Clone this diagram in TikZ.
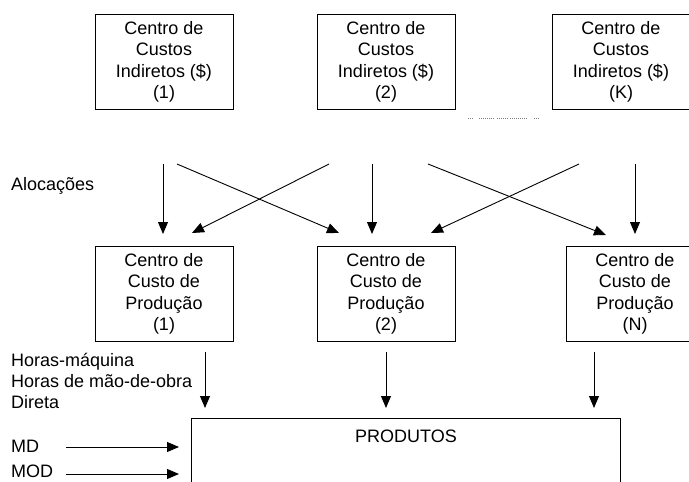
\documentclass[tikz,border=0pt]{standalone}
\usepackage{fontspec}
\setmainfont{Liberation Sans}
\usetikzlibrary{arrows.meta}
\begin{document}
\begin{tikzpicture}[x=1pt,y=-1pt,
  box/.style={draw,line width=0.9pt,minimum width=138pt,minimum height=95pt,align=center,inner sep=0pt,font=\fontsize{18}{21.5}\selectfont},
  lbl/.style={anchor=west,inner sep=0pt,align=left,font=\fontsize{18}{21}\selectfont},
  arr/.style={line width=0.9pt,-{Triangle[width=10pt,length=12pt]}}]
\useasboundingbox (0,0) rectangle (689,482);
% top cost centers
\node[box] (c1) at (164,62) {Centro de\\Custos\\Indiretos (\$)\\(1)};
\node[box] (c2) at (386,62) {Centro de\\Custos\\Indiretos (\$)\\(2)};
\node[box] (ck) at (621,62) {Centro de\\Custos\\Indiretos (\$)\\(K)};
% dots
\foreach \a/\b in {468/473,479/494,497/508,510/527,534/539}
  \draw[line width=1pt,gray,dash pattern=on 1pt off 1pt] (\a,118) -- (\b,118);
% production centers
\node[box] (p1) at (164,294) {Centro de\\Custo de\\Produção\\(1)};
\node[box] (p2) at (386,294) {Centro de\\Custo de\\Produção\\(2)};
\node[box] (pn) at (635,294) {Centro de\\Custo de\\Produção\\(N)};
% products
\node[draw,line width=0.9pt,minimum width=429pt,minimum height=100pt,anchor=north,inner sep=0pt] (prod) at (406,418) {};
\node[inner sep=0pt,font=\fontsize{18}{21.5}\selectfont] (prodt) at (406,436) {PRODUTOS};
% labels
\node[lbl] (aloc) at (11,186) {Alocações};
\node[lbl] (horas) at (11,381) {Horas-máquina\\Horas de mão-de-obra\\Direta};
\node[lbl] (md) at (11,446) {MD};
\node[lbl] (mod) at (11,471) {MOD};
% allocation arrow ends
\coordinate (s1) at (163,164); \coordinate (e1) at (163,234);
\coordinate (s2) at (177,164); \coordinate (e2) at (339,233);
\coordinate (s3) at (329,164); \coordinate (e3) at (192,233);
\coordinate (s4) at (372,164); \coordinate (e4) at (372,234);
\coordinate (s5) at (428,164); \coordinate (e5) at (606,235);
\coordinate (s6) at (579,164); \coordinate (e6) at (431,233);
\coordinate (s7) at (635,164); \coordinate (e7) at (635,234);
\foreach \i in {1,...,7} \draw[arr] (s\i) -- (e\i);
% hours arrows
\coordinate (h1s) at (205,352); \coordinate (h1e) at (205,408);
\coordinate (h2s) at (386,352); \coordinate (h2e) at (386,408);
\coordinate (h3s) at (594,352); \coordinate (h3e) at (594,408);
\draw[arr] (h1s) -- (h1e);
\draw[arr] (h2s) -- (h2e);
\draw[arr] (h3s) -- (h3e);
% MD / MOD arrows
\coordinate (m1s) at (66,447); \coordinate (m1e) at (179,447);
\coordinate (m2s) at (66,474); \coordinate (m2e) at (179,474);
\draw[arr] (m1s) -- (m1e);
\draw[arr] (m2s) -- (m2e);
\end{tikzpicture}
\end{document}
